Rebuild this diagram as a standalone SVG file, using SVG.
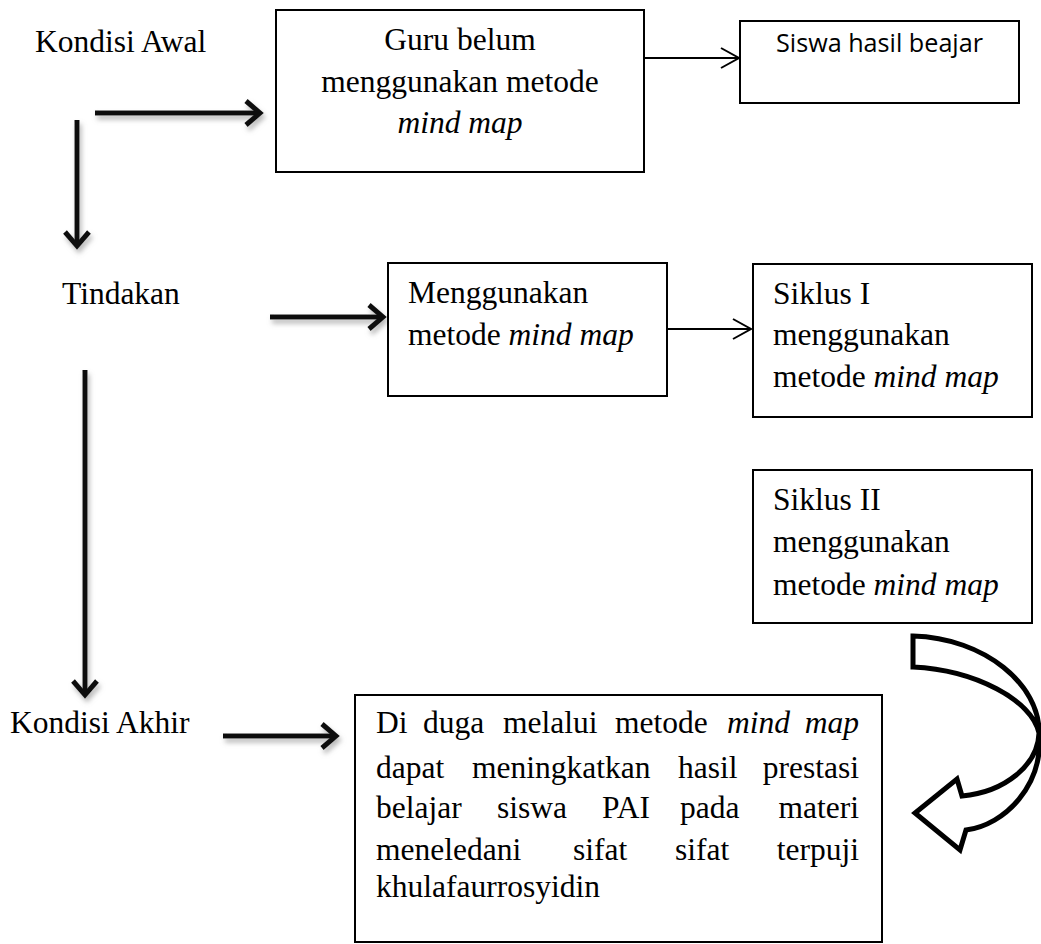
<svg xmlns="http://www.w3.org/2000/svg" width="1041" height="944" viewBox="0 0 1041 944">
<style>
.t{font-family:"Liberation Serif","Times New Roman",serif;font-size:31.5px;fill:#000}
.i{font-style:italic}
.s{font-family:"Open Sans","Liberation Sans",sans-serif;font-size:25px;fill:#000}
.box{fill:#fff;stroke:#000;stroke-width:2}
.thick{fill:none;stroke:#111;stroke-width:5}
.thin{fill:none;stroke:#000;stroke-width:2}
.curve{fill:#fff;stroke:#000;stroke-width:5;stroke-linejoin:miter}
</style>
<defs>
<filter id="sh" x="-20%" y="-50%" width="140%" height="200%">
<feDropShadow dx="2" dy="4" stdDeviation="2.5" flood-color="#888" flood-opacity="0.6"/>
</filter>
<marker id="hk" markerUnits="userSpaceOnUse" markerWidth="24" markerHeight="30" refX="19" refY="15" orient="auto">
<path d="M5,3 L19,15 L5,27" fill="none" stroke="#111" stroke-width="5"/>
</marker>
<marker id="hn" markerUnits="userSpaceOnUse" markerWidth="22" markerHeight="24" refX="19" refY="12" orient="auto">
<path d="M1,2 L19,12 L1,22" fill="none" stroke="#000" stroke-width="2"/>
</marker>
</defs>

<g id="connectors">
<g filter="url(#sh)">
<line class="thick" x1="95" y1="113" x2="260" y2="113" marker-end="url(#hk)"/>
<line class="thick" x1="77" y1="120" x2="77" y2="246" marker-end="url(#hk)"/>
<line class="thick" x1="270" y1="317" x2="383" y2="317" marker-end="url(#hk)"/>
<line class="thick" x1="85" y1="370" x2="85" y2="695" marker-end="url(#hk)"/>
<line class="thick" x1="223" y1="736" x2="336" y2="736" marker-end="url(#hk)"/>
</g>
<line class="thin" x1="644" y1="58" x2="739" y2="58" marker-end="url(#hn)"/>
<line class="thin" x1="667" y1="329" x2="751" y2="329" marker-end="url(#hn)"/>
</g>

<g id="kondisi-awal"><text class="t" x="35" y="52">Kondisi Awal</text></g>
<g id="tindakan"><text class="t" x="62" y="304">Tindakan</text></g>
<g id="kondisi-akhir"><text class="t" x="10" y="733">Kondisi Akhir</text></g>

<g id="guru">
<rect class="box" x="276" y="10" width="368" height="162"/>
<text class="t" text-anchor="middle" x="460" y="50">Guru belum</text>
<text class="t" text-anchor="middle" x="460" y="92">menggunakan metode</text>
<text class="t i" text-anchor="middle" x="460" y="133">mind map</text>
</g>

<g id="siswa">
<rect class="box" x="740" y="21" width="279" height="82"/>
<text class="s" x="776" y="52" textLength="207" lengthAdjust="spacingAndGlyphs">Siswa hasil beajar</text>
</g>

<g id="menggunakan">
<rect class="box" x="388" y="263" width="279" height="133"/>
<text class="t" x="408" y="303">Menggunakan</text>
<text class="t" x="408" y="345">metode <tspan class="i">mind map</tspan></text>
</g>

<g id="siklus1">
<rect class="box" x="753" y="264" width="279" height="153"/>
<text class="t" x="773" y="304">Siklus I</text>
<text class="t" x="773" y="345">menggunakan</text>
<text class="t" x="773" y="387">metode <tspan class="i">mind map</tspan></text>
</g>

<g id="siklus2">
<rect class="box" x="753" y="470" width="279" height="153"/>
<text class="t" x="773" y="510">Siklus II</text>
<text class="t" x="773" y="552">menggunakan</text>
<text class="t" x="773" y="595">metode <tspan class="i">mind map</tspan></text>
</g>

<g id="curved-arrow">
<path class="curve" d="M913,636 C985,638 1040,685 1039,733 C1038,765 1005,792 962,796 L957,779 L915,813 L960,850 L966,830 C1005,825 1044,785 1039,733 C1032,700 975,670 913,667 Z"/>
</g>

<g id="hipotesis">
<rect class="box" x="355" y="695" width="527" height="247"/>
<text class="t" y="733"><tspan x="376">Di</tspan><tspan x="423">duga</tspan><tspan x="503">melalui</tspan><tspan x="615">metode</tspan><tspan x="727" class="i">mind</tspan><tspan x="859" text-anchor="end" class="i">map</tspan></text>
<text class="t" y="778"><tspan x="376">dapat</tspan><tspan x="472">meningkatkan</tspan><tspan x="678">hasil</tspan><tspan x="859" text-anchor="end">prestasi</tspan></text>
<text class="t" y="818"><tspan x="376">belajar</tspan><tspan x="497">siswa</tspan><tspan x="602">PAI</tspan><tspan x="680">pada</tspan><tspan x="859" text-anchor="end">materi</tspan></text>
<text class="t" y="860"><tspan x="376">meneledani</tspan><tspan x="573">sifat</tspan><tspan x="675">sifat</tspan><tspan x="859" text-anchor="end">terpuji</tspan></text>
<text class="t" x="376" y="897">khulafaurrosyidin</text>
</g>
</svg>
